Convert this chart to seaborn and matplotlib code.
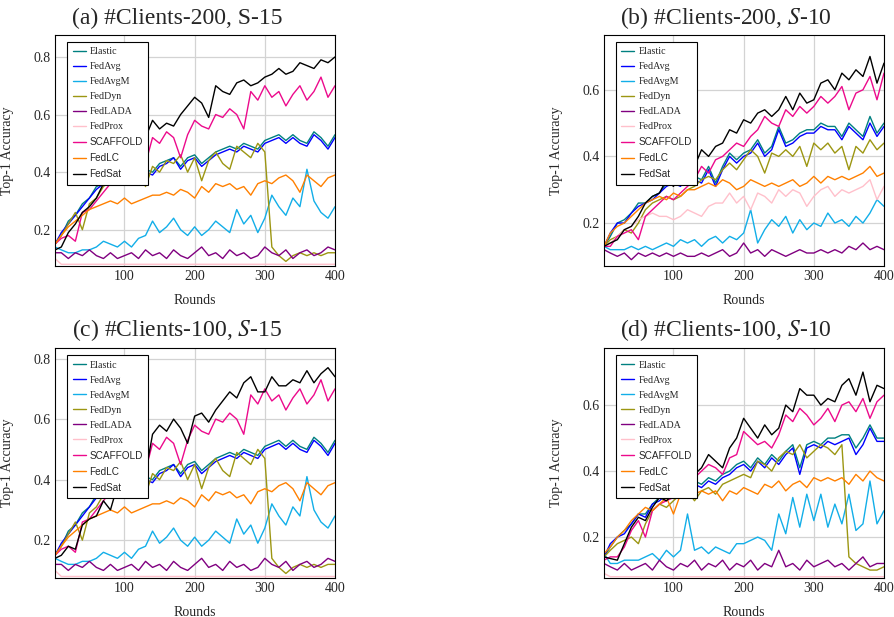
import matplotlib
matplotlib.use("Agg")
import matplotlib.pyplot as plt
import numpy as np
import pandas as pd
import seaborn as sns

# x positions (every 10 rounds)
rounds = [1] + list(range(10, 401, 10))

methods = ["Elastic", "FedAvg", "FedAvgM", "FedDyn", "FedLADA",
           "FedProx", "SCAFFOLD", "FedLC", "FedSat"]
colors = ["#008080", "#0000ff", "#12aee8", "#9c9612", "#800080",
          "#ffc0cb", "#ec0a8c", "#ff8000", "#000000"]

titles = ["(a) #Clients-200, S-15", r"(b) #Clients-200, $S$-10",
          r"(c) #Clients-100, $S$-15", r"(d) #Clients-100, $S$-10"]
yticks = [0.2, 0.4, 0.6, 0.8]
xticks = [100, 200, 300, 400]

# ---- panel (a): 200 clients, S-15 ----
a_elastic = [0.15, 0.18, 0.23, 0.25, 0.29, 0.31, 0.35, 0.36, 0.39, 0.40,
             0.42, 0.43, 0.42, 0.41, 0.40, 0.43, 0.44, 0.45, 0.42, 0.45,
             0.46, 0.43, 0.45, 0.47, 0.48, 0.49, 0.48, 0.50, 0.49, 0.48,
             0.51, 0.52, 0.53, 0.51, 0.53, 0.51, 0.50, 0.54, 0.52, 0.49,
             0.53]
a_fedavg = [0.15, 0.19, 0.22, 0.25, 0.28, 0.31, 0.34, 0.36, 0.38, 0.40,
            0.41, 0.42, 0.43, 0.40, 0.39, 0.42, 0.43, 0.45, 0.41, 0.44,
            0.45, 0.42, 0.44, 0.46, 0.47, 0.48, 0.47, 0.49, 0.48, 0.47,
            0.50, 0.51, 0.52, 0.50, 0.52, 0.50, 0.49, 0.53, 0.51, 0.48,
            0.52]
a_fedavgm = [0.14, 0.13, 0.12, 0.12, 0.13, 0.13, 0.14, 0.16, 0.15, 0.14,
             0.16, 0.14, 0.17, 0.18, 0.23, 0.19, 0.21, 0.24, 0.20, 0.18,
             0.21, 0.18, 0.20, 0.23, 0.21, 0.19, 0.27, 0.22, 0.25, 0.19,
             0.24, 0.32, 0.28, 0.25, 0.31, 0.28, 0.41, 0.30, 0.26, 0.24,
             0.28]
a_feddyn = [0.15, 0.18, 0.22, 0.26, 0.20, 0.29, 0.31, 0.35, 0.37, 0.40,
            0.42, 0.44, 0.41, 0.35, 0.42, 0.40, 0.44, 0.43, 0.46, 0.40,
            0.45, 0.37, 0.44, 0.47, 0.43, 0.41, 0.49, 0.47, 0.45, 0.50,
            0.47, 0.14, 0.11, 0.09, 0.11, 0.12, 0.11, 0.12, 0.11, 0.12,
            0.12]
a_fedlada = [0.12, 0.12, 0.10, 0.12, 0.11, 0.13, 0.11, 0.10, 0.12, 0.10,
             0.11, 0.12, 0.10, 0.13, 0.11, 0.12, 0.10, 0.13, 0.11, 0.10,
             0.12, 0.14, 0.11, 0.12, 0.10, 0.13, 0.11, 0.12, 0.10, 0.11,
             0.14, 0.12, 0.11, 0.13, 0.10, 0.12, 0.13, 0.11, 0.12, 0.14,
             0.13]
a_fedprox = [0.10, 0.08, 0.08, 0.08, 0.08, 0.08, 0.08, 0.08, 0.08, 0.08,
             0.08, 0.08, 0.08, 0.08, 0.08, 0.08, 0.08, 0.08, 0.08, 0.08,
             0.08, 0.08, 0.08, 0.08, 0.08, 0.08, 0.08, 0.08, 0.08, 0.08,
             0.08, 0.08, 0.08, 0.08, 0.08, 0.08, 0.08, 0.08, 0.08, 0.08,
             0.08]
a_scaffold = [0.15, 0.17, 0.18, 0.16, 0.26, 0.27, 0.30, 0.33, 0.36, 0.38,
              0.40, 0.41, 0.44, 0.43, 0.52, 0.50, 0.54, 0.52, 0.45, 0.53,
              0.58, 0.56, 0.55, 0.60, 0.59, 0.62, 0.60, 0.55, 0.68, 0.65,
              0.70, 0.66, 0.68, 0.63, 0.67, 0.70, 0.65, 0.68, 0.73, 0.66,
              0.70]
a_fedlc = [0.15, 0.18, 0.21, 0.23, 0.25, 0.27, 0.28, 0.29, 0.30, 0.29,
           0.31, 0.29, 0.30, 0.31, 0.32, 0.32, 0.33, 0.32, 0.34, 0.33,
           0.31, 0.35, 0.33, 0.36, 0.35, 0.36, 0.34, 0.35, 0.32, 0.36,
           0.37, 0.36, 0.38, 0.39, 0.37, 0.33, 0.39, 0.37, 0.35, 0.38,
           0.39]
a_fedsat = [0.13, 0.14, 0.19, 0.22, 0.26, 0.28, 0.31, 0.36, 0.37, 0.41,
            0.44, 0.47, 0.46, 0.52, 0.58, 0.55, 0.57, 0.56, 0.60, 0.63,
            0.66, 0.64, 0.59, 0.70, 0.68, 0.67, 0.71, 0.72, 0.70, 0.71,
            0.73, 0.74, 0.76, 0.74, 0.75, 0.78, 0.77, 0.76, 0.79, 0.78,
            0.80]

# ---- panel (b): 200 clients, S-10 ----
b_elastic = [0.13, 0.16, 0.20, 0.21, 0.23, 0.26, 0.26, 0.28, 0.29, 0.32,
             0.32, 0.32, 0.34, 0.34, 0.33, 0.37, 0.32, 0.37, 0.41, 0.39,
             0.41, 0.42, 0.45, 0.41, 0.43, 0.49, 0.44, 0.45, 0.47, 0.48,
             0.48, 0.50, 0.49, 0.49, 0.46, 0.50, 0.48, 0.46, 0.52, 0.47,
             0.50]
b_fedavg = [0.13, 0.17, 0.20, 0.20, 0.23, 0.25, 0.26, 0.27, 0.29, 0.31,
            0.32, 0.31, 0.34, 0.33, 0.32, 0.36, 0.31, 0.36, 0.40, 0.38,
            0.40, 0.41, 0.44, 0.40, 0.42, 0.48, 0.43, 0.44, 0.46, 0.47,
            0.47, 0.49, 0.48, 0.48, 0.45, 0.49, 0.47, 0.45, 0.50, 0.46,
            0.49]
b_fedavgm = [0.13, 0.12, 0.12, 0.12, 0.13, 0.12, 0.13, 0.12, 0.13, 0.14,
             0.13, 0.15, 0.14, 0.15, 0.13, 0.15, 0.16, 0.14, 0.16, 0.15,
             0.17, 0.24, 0.14, 0.18, 0.21, 0.19, 0.22, 0.17, 0.21, 0.18,
             0.20, 0.19, 0.23, 0.20, 0.21, 0.19, 0.22, 0.20, 0.23, 0.27,
             0.25]
b_feddyn = [0.13, 0.15, 0.16, 0.18, 0.17, 0.20, 0.24, 0.26, 0.27, 0.28,
            0.27, 0.28, 0.30, 0.31, 0.33, 0.34, 0.33, 0.36, 0.38, 0.36,
            0.39, 0.42, 0.40, 0.35, 0.41, 0.40, 0.42, 0.40, 0.43, 0.37,
            0.44, 0.42, 0.44, 0.41, 0.43, 0.36, 0.43, 0.41, 0.45, 0.42,
            0.44]
b_fedlada = [0.12, 0.11, 0.10, 0.11, 0.09, 0.11, 0.10, 0.11, 0.10, 0.11,
             0.10, 0.11, 0.10, 0.10, 0.11, 0.10, 0.11, 0.12, 0.10, 0.11,
             0.14, 0.11, 0.12, 0.10, 0.12, 0.11, 0.10, 0.11, 0.12, 0.11,
             0.11, 0.12, 0.11, 0.12, 0.11, 0.13, 0.12, 0.14, 0.12, 0.13,
             0.12]
b_fedprox = [0.13, 0.14, 0.16, 0.18, 0.19, 0.21, 0.22, 0.23, 0.22, 0.22,
             0.21, 0.22, 0.24, 0.23, 0.22, 0.25, 0.26, 0.26, 0.29, 0.26,
             0.28, 0.24, 0.29, 0.28, 0.26, 0.30, 0.28, 0.30, 0.29, 0.25,
             0.28, 0.30, 0.31, 0.28, 0.30, 0.29, 0.30, 0.31, 0.33, 0.27,
             0.31]
b_scaffold = [0.13, 0.13, 0.16, 0.17, 0.18, 0.15, 0.22, 0.24, 0.26, 0.28,
              0.27, 0.29, 0.31, 0.33, 0.37, 0.35, 0.39, 0.40, 0.42, 0.44,
              0.43, 0.46, 0.48, 0.52, 0.50, 0.49, 0.54, 0.52, 0.55, 0.53,
              0.55, 0.58, 0.56, 0.58, 0.61, 0.54, 0.59, 0.60, 0.64, 0.57,
              0.65]
b_fedlc = [0.13, 0.17, 0.19, 0.20, 0.22, 0.24, 0.26, 0.27, 0.28, 0.27,
           0.29, 0.28, 0.30, 0.30, 0.31, 0.32, 0.31, 0.33, 0.32, 0.30,
           0.31, 0.33, 0.32, 0.31, 0.32, 0.31, 0.32, 0.33, 0.31, 0.32,
           0.34, 0.32, 0.34, 0.33, 0.34, 0.33, 0.34, 0.35, 0.37, 0.34,
           0.35]
b_fedsat = [0.13, 0.14, 0.15, 0.18, 0.19, 0.22, 0.26, 0.28, 0.29, 0.33,
            0.31, 0.35, 0.34, 0.37, 0.42, 0.40, 0.43, 0.44, 0.48, 0.47,
            0.51, 0.50, 0.53, 0.54, 0.52, 0.54, 0.58, 0.54, 0.59, 0.56,
            0.57, 0.62, 0.63, 0.60, 0.65, 0.63, 0.66, 0.64, 0.70, 0.62,
            0.68]

# ---- panel (c): 100 clients, S-15 (only FedSat differs visibly from (a)) ----
c_fedsat = [0.14, 0.15, 0.18, 0.17, 0.25, 0.27, 0.28, 0.33, 0.30, 0.38,
            0.42, 0.48, 0.46, 0.42, 0.55, 0.58, 0.56, 0.60, 0.57, 0.52,
            0.61, 0.62, 0.59, 0.63, 0.66, 0.69, 0.67, 0.72, 0.74, 0.69,
            0.69, 0.74, 0.71, 0.71, 0.73, 0.72, 0.76, 0.72, 0.75, 0.77,
            0.74]

# ---- panel (d): 100 clients, S-10 ----
d_elastic = [0.14, 0.17, 0.20, 0.22, 0.24, 0.27, 0.27, 0.30, 0.32, 0.33,
             0.35, 0.35, 0.35, 0.37, 0.36, 0.38, 0.37, 0.39, 0.40, 0.42,
             0.43, 0.41, 0.44, 0.42, 0.45, 0.43, 0.46, 0.48, 0.41, 0.48,
             0.49, 0.48, 0.50, 0.50, 0.51, 0.51, 0.47, 0.50, 0.54, 0.50,
             0.50]
d_fedavg = [0.14, 0.18, 0.20, 0.21, 0.24, 0.27, 0.26, 0.30, 0.31, 0.33,
            0.34, 0.35, 0.34, 0.36, 0.35, 0.37, 0.36, 0.38, 0.39, 0.41,
            0.42, 0.40, 0.43, 0.41, 0.44, 0.42, 0.45, 0.47, 0.39, 0.47,
            0.48, 0.47, 0.49, 0.48, 0.49, 0.50, 0.45, 0.48, 0.53, 0.49,
            0.49]
d_fedavgm = [0.15, 0.12, 0.12, 0.13, 0.13, 0.13, 0.14, 0.15, 0.13, 0.16,
             0.14, 0.16, 0.27, 0.16, 0.17, 0.15, 0.17, 0.16, 0.15, 0.18,
             0.18, 0.19, 0.20, 0.19, 0.16, 0.27, 0.21, 0.32, 0.23, 0.33,
             0.25, 0.33, 0.23, 0.30, 0.24, 0.33, 0.22, 0.24, 0.37, 0.24,
             0.28]
d_feddyn = [0.14, 0.16, 0.18, 0.19, 0.20, 0.18, 0.24, 0.28, 0.30, 0.29,
            0.31, 0.33, 0.34, 0.31, 0.34, 0.35, 0.33, 0.36, 0.37, 0.38,
            0.39, 0.38, 0.43, 0.42, 0.40, 0.44, 0.46, 0.45, 0.48, 0.44,
            0.46, 0.48, 0.47, 0.45, 0.48, 0.14, 0.12, 0.11, 0.10, 0.10,
            0.11]
d_fedlada = [0.12, 0.11, 0.10, 0.12, 0.10, 0.11, 0.12, 0.10, 0.13, 0.11,
             0.10, 0.12, 0.11, 0.13, 0.10, 0.12, 0.11, 0.13, 0.10, 0.12,
             0.11, 0.13, 0.10, 0.12, 0.11, 0.16, 0.11, 0.12, 0.10, 0.13,
             0.11, 0.12, 0.13, 0.11, 0.12, 0.10, 0.12, 0.14, 0.11, 0.12,
             0.12]
d_fedprox = [0.09, 0.08, 0.08, 0.08, 0.08, 0.08, 0.08, 0.08, 0.08, 0.08,
             0.08, 0.08, 0.08, 0.08, 0.08, 0.08, 0.08, 0.08, 0.08, 0.08,
             0.08, 0.08, 0.08, 0.08, 0.08, 0.08, 0.08, 0.08, 0.08, 0.08,
             0.08, 0.08, 0.08, 0.08, 0.08, 0.08, 0.08, 0.08, 0.08, 0.08,
             0.08]
d_scaffold = [0.13, 0.14, 0.14, 0.17, 0.22, 0.25, 0.20, 0.28, 0.30, 0.31,
              0.32, 0.35, 0.36, 0.38, 0.40, 0.42, 0.41, 0.39, 0.44, 0.45,
              0.52, 0.50, 0.48, 0.49, 0.47, 0.51, 0.57, 0.55, 0.59, 0.57,
              0.54, 0.56, 0.59, 0.55, 0.60, 0.61, 0.58, 0.62, 0.56, 0.61,
              0.63]
d_fedlc = [0.15, 0.17, 0.20, 0.22, 0.25, 0.27, 0.29, 0.28, 0.30, 0.32,
           0.27, 0.33, 0.32, 0.33, 0.34, 0.33, 0.34, 0.31, 0.34, 0.33,
           0.35, 0.34, 0.33, 0.36, 0.35, 0.37, 0.34, 0.36, 0.37, 0.35,
           0.38, 0.37, 0.38, 0.37, 0.38, 0.36, 0.39, 0.37, 0.40, 0.38,
           0.37]
d_fedsat = [0.14, 0.135, 0.13, 0.18, 0.23, 0.26, 0.25, 0.29, 0.32, 0.31,
            0.33, 0.36, 0.37, 0.39, 0.41, 0.45, 0.43, 0.41, 0.47, 0.50,
            0.56, 0.53, 0.50, 0.54, 0.51, 0.53, 0.60, 0.58, 0.65, 0.63,
            0.63, 0.60, 0.62, 0.61, 0.66, 0.68, 0.63, 0.70, 0.61, 0.66,
            0.65]

panels = [
    [a_elastic, a_fedavg, a_fedavgm, a_feddyn, a_fedlada, a_fedprox, a_scaffold, a_fedlc, a_fedsat],
    [b_elastic, b_fedavg, b_fedavgm, b_feddyn, b_fedlada, b_fedprox, b_scaffold, b_fedlc, b_fedsat],
    [a_elastic, a_fedavg, a_fedavgm, a_feddyn, a_fedlada, a_fedprox, a_scaffold, a_fedlc, c_fedsat],
    [d_elastic, d_fedavg, d_fedavgm, d_feddyn, d_fedlada, d_fedprox, d_scaffold, d_fedlc, d_fedsat],
]
ylims = [(0.074, 0.878), (0.071, 0.766), (0.075, 0.835), (0.076, 0.773)]

sns.set_style("whitegrid", {"grid.color": "#d3d3d3", "axes.edgecolor": "black"})
plt.rcParams["font.family"] = ["Liberation Serif", "DejaVu Serif"]
plt.rcParams["mathtext.fontset"] = "stix"

W, H = 895, 617
fig = plt.figure(figsize=(W / 100, H / 100), dpi=100)

# axes boxes in pixels: left, top, right, bottom
boxes = [(55, 34.5, 335, 266), (604, 34.5, 884, 266),
         (55, 348, 335, 578), (604, 348, 884, 578)]

palette = dict(zip(methods, colors))

for i, (l, t, r, b) in enumerate(boxes):
    ax = fig.add_axes([l / W, 1 - b / H, (r - l) / W, (b - t) / H])
    series = panels[i]
    df = pd.DataFrame({
        "Round": rounds * len(methods),
        "Method": np.repeat(methods, len(rounds)),
        "Accuracy": np.concatenate(series),
    })
    sns.lineplot(data=df, x="Round", y="Accuracy", hue="Method",
                 hue_order=methods, palette=palette, estimator=None,
                 linewidth=1.0, legend=False, ax=ax)

    ax.set_xlim(1, 400)
    ax.set_ylim(*ylims[i])
    ax.set_xticks(xticks)
    ax.set_yticks([y for y in yticks if y < ylims[i][1]])
    ax.tick_params(labelsize=10, direction="in", length=2, pad=3)
    ax.grid(True, color="#d3d3d3", linewidth=0.9)
    for s in ax.spines.values():
        s.set_color("black")
        s.set_linewidth(0.8)

    ax.set_xlabel("Rounds", fontsize=10)
    ax.set_ylabel("Top-1 Accuracy", fontsize=10)
    ax.xaxis.set_label_coords(0.5, -0.12)
    ax.yaxis.set_label_coords(-0.145, 0.5)

    leg = ax.legend(ax.lines[:len(methods)], methods, loc="upper left",
                    bbox_to_anchor=(0.025, 0.99), fontsize=7.2,
                    frameon=True, fancybox=False, framealpha=1,
                    edgecolor="black", handlelength=1.3,
                    handletextpad=0.4, labelspacing=0.6, borderpad=0.55)
    leg.get_frame().set_linewidth(0.8)
    for txt in leg.get_texts()[6:]:
        txt.set_family(["Liberation Sans", "DejaVu Sans"])

    cx = (l + r) / 2 - 18
    fig.text(cx / W, 1 - 18 / H if i < 2 else 1 - 330 / H, titles[i],
             ha="center", va="center", fontsize=17)

fig.savefig("out.png", dpi=100)
